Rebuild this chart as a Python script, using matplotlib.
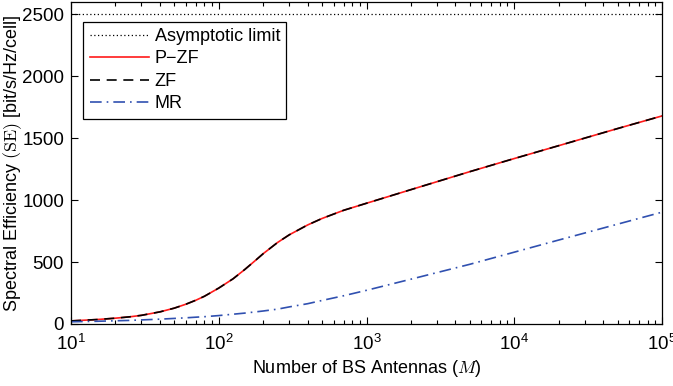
import matplotlib
matplotlib.use("Agg")
import matplotlib.pyplot as plt

# number of BS antennas
antennas = [10, 15, 20, 25, 30, 40, 50, 60, 70, 80, 100, 125, 150, 175, 200,
            250, 300, 400, 500, 700, 1000, 2000, 5000, 10000, 20000, 50000, 100000]

# spectral efficiency [bit/s/Hz/cell]
se_pzf = [25, 36, 47, 58, 70, 98, 128, 160, 192, 224, 290, 365, 440, 508, 568,
          658, 720, 800, 852, 918, 975, 1085, 1230, 1336, 1440, 1578, 1680]
se_zf = [25, 36, 47, 58, 70, 98, 128, 160, 192, 224, 290, 365, 440, 508, 568,
         658, 720, 800, 852, 918, 975, 1085, 1230, 1336, 1440, 1578, 1680]
se_mr = [18, 22, 26, 29, 33, 39, 45, 50, 55, 59, 68, 79, 88, 97, 105,
         120, 138, 164, 190, 228, 272, 362, 482, 580, 678, 806, 903]
asymptotic_limit = 2500

plt.rcParams["font.family"] = ["Liberation Sans", "DejaVu Sans"]
plt.rcParams["mathtext.fontset"] = "cm"

fig = plt.figure(figsize=(6.73, 3.86), dpi=100)
ax = fig.add_axes([71 / 673, 62 / 386, 591 / 673, 322 / 386])

ax.axhline(asymptotic_limit, color="black", linestyle=(0, (1, 2)), linewidth=0.9,
           label="Asymptotic limit")
ax.plot(antennas, se_pzf, color="#ff1a1a", linewidth=1.2, label="P\u2212ZF")
ax.plot(antennas, se_zf, color="black", linewidth=1.2, linestyle=(0, (6, 4)), label="ZF")
ax.plot(antennas, se_mr, color="#3050b0", linewidth=1.2, linestyle=(0, (7, 3, 1, 3)),
        label="MR")

ax.set_xscale("log")
ax.set_xlim(10, 1e5)
ax.set_ylim(0, 2600)
ax.set_yticks([0, 500, 1000, 1500, 2000, 2500])

ax.set_xlabel("Number of BS Antennas ($M$)", fontsize=13, labelpad=3)
ax.set_ylabel(r"Spectral Efficiency $(\mathrm{SE})$ [bit/s/Hz/cell]", fontsize=13)
ax.yaxis.set_label_coords(-0.08, 0.5)

ax.tick_params(which="both", direction="in", top=True, right=True, labelsize=13.5, width=0.8)
ax.tick_params(axis="x", which="major", pad=7)
ax.tick_params(axis="y", which="major", pad=5)
ax.tick_params(which="major", length=5)
ax.tick_params(which="minor", length=3)
for spine in ax.spines.values():
    spine.set_linewidth(0.9)

leg = ax.legend(loc="upper left", bbox_to_anchor=(12.3 / 591, 1 - 19.7 / 322),
                borderaxespad=0, fancybox=False, framealpha=1, edgecolor="black",
                fontsize=13, handlelength=3.3, handletextpad=0.3, labelspacing=0.3,
                borderpad=0.35)
leg.get_frame().set_linewidth(0.9)

fig.savefig("out.png", dpi=100)
